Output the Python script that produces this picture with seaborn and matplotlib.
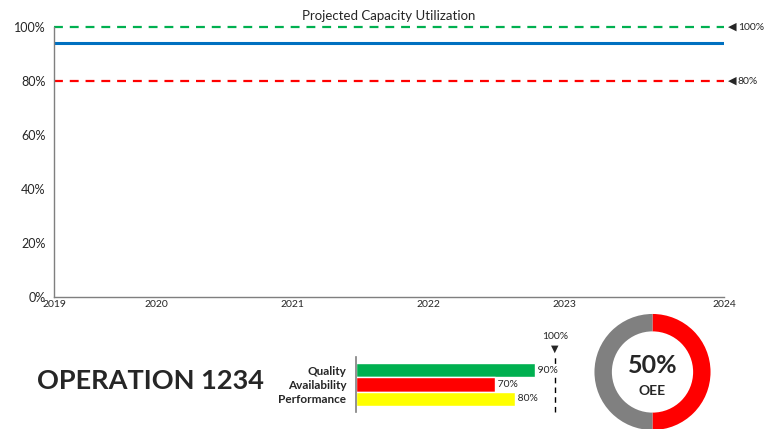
import matplotlib
matplotlib.use("Agg")
import matplotlib.pyplot as plt
import seaborn as sns
import pandas as pd

# Capacity utilization projection
timeline = [2019.25, 2020, 2021, 2022, 2023, 2024.17]
utilization = [0.94, 0.94, 0.94, 0.94, 0.94, 0.94]
year_labels = ["2019", "2020", "2021", "2022", "2023", "2024"]
target_level = 1.00
minimum_level = 0.80

# OEE components
components = ["Quality", "Availability", "Performance"]
component_values = [0.90, 0.70, 0.80]
component_colors = ["#00B050", "#FF0000", "#FFFF00"]
oee_value = 0.50
operation_name = "OPERATION 1234"

sns.set_theme(style="white")
plt.rcParams["font.family"] = ["Lato", "DejaVu Sans"]

W, H = 771, 429
fig = plt.figure(figsize=(W / 100, H / 100), dpi=100)


def box(x0, y0, x1, y1):
    return [x0 / W, 1 - y1 / H, (x1 - x0) / W, (y1 - y0) / H]


# Main utilization chart
ax = fig.add_axes(box(54, 27, 724, 297))
df = pd.DataFrame({"year": timeline, "util": utilization})
sns.lineplot(data=df, x="year", y="util", ax=ax, color="#0070C0", linewidth=2.2)
dash = (0, (4.0, 3.1))
ax.axhline(target_level, color="#00B050", linewidth=1.6, linestyle=dash, clip_on=False)
ax.axhline(minimum_level, color="#FF0000", linewidth=1.6, linestyle=dash, clip_on=False)
ax.set_xlim(timeline[0], timeline[-1])
ax.set_ylim(0, 1)
ax.set_xticks(timeline)
ax.set_xticklabels(year_labels, fontsize=7.5)
ax.set_yticks([0, 0.2, 0.4, 0.6, 0.8, 1.0])
ax.set_yticklabels(["0%", "20%", "40%", "60%", "80%", "100%"], fontsize=9)
ax.tick_params(axis="x", length=0, pad=2)
ax.tick_params(axis="y", length=0, pad=6)
ax.set_xlabel("")
ax.set_ylabel("")
for s in ["top", "right"]:
    ax.spines[s].set_visible(False)
for s in ["left", "bottom"]:
    ax.spines[s].set_color("#7F7F7F")
    ax.spines[s].set_linewidth(1.0)
ax.set_title("Projected Capacity Utilization", fontsize=9.5, pad=5)

for lvl in (target_level, minimum_level):
    ax.annotate("\u25C0", xy=(1.0, lvl), xycoords=("axes fraction", "data"),
                xytext=(6, 0), textcoords="offset points", fontsize=8,
                ha="center", va="center", family=["DejaVu Sans"], annotation_clip=False)
    ax.annotate(f"{lvl:.0%}", xy=(1.0, lvl), xycoords=("axes fraction", "data"),
                xytext=(10, 0), textcoords="offset points", fontsize=7.5,
                ha="left", va="center", annotation_clip=False)

# Operation name
fig.text(37 / W, 1 - 381 / H, operation_name, fontsize=19.5, fontweight="bold",
         ha="left", va="center")

# OEE component bars
bx = fig.add_axes(box(356, 357, 555, 412))
bdf = pd.DataFrame({"component": components, "value": component_values})
sns.barplot(data=bdf, x="value", y="component", hue="component",
            palette=component_colors, orient="h", width=1.0, ax=bx,
            legend=False, saturation=1)
bx.set_xlim(0, 1)
bx.set_ylim(2.5 + 0.43, -0.5 - 0.43)
bx.set_xticks([])
bx.set_xlabel("")
bx.set_ylabel("")
bx.tick_params(axis="y", length=0, pad=7)
for lab in bx.get_yticklabels():
    lab.set_fontweight("bold")
    lab.set_fontsize(8.5)
for s in ["top", "right", "bottom"]:
    bx.spines[s].set_visible(False)
bx.spines["left"].set_color("#7F7F7F")
bx.spines["left"].set_linewidth(1.2)
bx.axvline(1.0, color="black", linewidth=1.0, linestyle=(0, (4, 3)), clip_on=False)
for i, v in enumerate(component_values):
    bx.text(v, i, f" {v:.0%}", fontsize=7.5, ha="left", va="center",
            bbox=dict(facecolor="white", edgecolor="none", pad=0.3))
bx.annotate("\u25BC", xy=(1.0, 1.0), xycoords="axes fraction", xytext=(0, 6),
            textcoords="offset points", ha="center", va="center", fontsize=7,
            family=["DejaVu Sans"], annotation_clip=False)
bx.annotate("100%", xy=(1.0, 1.0), xycoords="axes fraction", xytext=(0, 15),
            textcoords="offset points", ha="center", va="center", fontsize=7.5,
            annotation_clip=False)

# OEE donut
dx = fig.add_axes(box(652.5 - 65, 372 - 65, 652.5 + 65, 372 + 65))
dx.pie([oee_value, 1 - oee_value], colors=["#FF0000", "#808080"], startangle=90,
       counterclock=False, radius=1.0, wedgeprops=dict(width=0.3, linewidth=0))
dx.set_xlim(-1.12, 1.12)
dx.set_ylim(-1.12, 1.12)
dx.set_aspect("auto")
dx.axis("off")
dx.text(0, 0.12, f"{oee_value:.0%}", fontsize=18, fontweight="bold",
        ha="center", va="center")
dx.text(0, -0.32, "OEE", fontsize=10, fontweight="bold", ha="center", va="center")

fig.savefig("out.png", dpi=100)
